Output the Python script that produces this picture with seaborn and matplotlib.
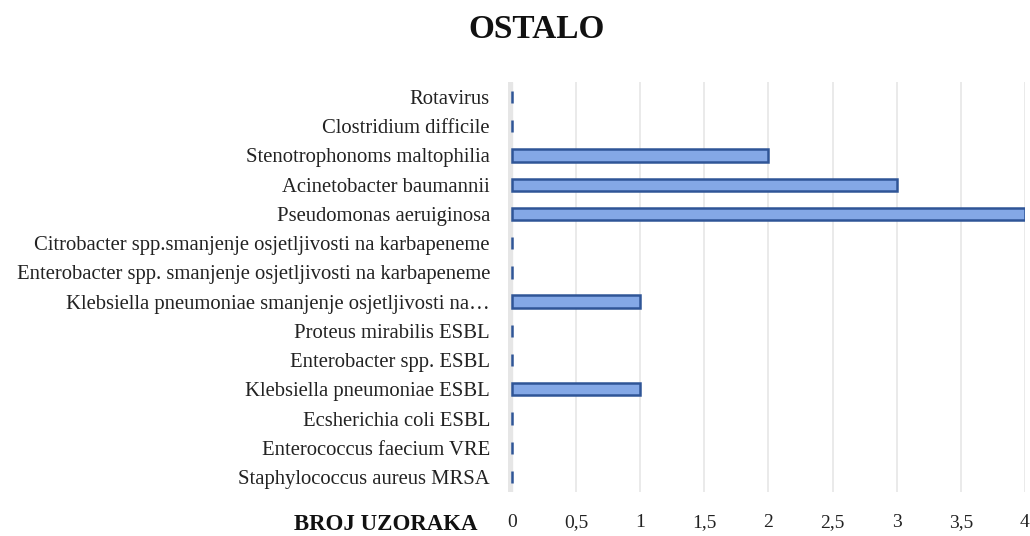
import matplotlib.pyplot as plt
import seaborn as sns
import pandas as pd
from matplotlib.ticker import FuncFormatter

categories = [
    'Rotavirus',
    'Clostridium difficile',
    'Stenotrophonoms maltophilia',
    'Acinetobacter baumannii',
    'Pseudomonas aeruiginosa',
    'Citrobacter spp.smanjenje osjetljivosti na karbapeneme',
    'Enterobacter spp. smanjenje osjetljivosti na karbapeneme',
    'Klebsiella pneumoniae smanjenje osjetljivosti na…',
    'Proteus mirabilis ESBL',
    'Enterobacter spp. ESBL',
    'Klebsiella pneumoniae ESBL',
    'Ecsherichia coli ESBL',
    'Enterococcus faecium VRE',
    'Staphylococcus aureus MRSA',
]
counts = [0, 0, 2, 3, 4, 0, 0, 1, 0, 0, 1, 0, 0, 0]
ticks = [0, 0.5, 1, 1.5, 2, 2.5, 3, 3.5, 4]

df = pd.DataFrame({'organizam': categories, 'broj': counts})

sns.set_style('white')
plt.rcParams['font.family'] = ['Liberation Serif', 'DejaVu Serif']

fig = plt.figure(figsize=(10.3, 5.36), dpi=100)
ax = fig.add_axes([0.4932, 0.0828, 0.5019, 0.7635])

# grey "wall" on the left like the excel 3d chart
ax.axvspan(-0.03, 0, color='#e6e6e6', zorder=0)

sns.barplot(data=df, x='broj', y='organizam', orient='h', width=0.42,
            color='#84a8e6', edgecolor='#2f5597', linewidth=1.8,
            saturation=1, ax=ax, zorder=3)

ax.set_xlim(-0.03, 4.0)
ax.set_xticks(ticks)
ax.xaxis.set_major_formatter(FuncFormatter(lambda v, p: f'{v:g}'.replace('.', ',')))
ax.grid(axis='x', color='#e6e6e6', linewidth=1.2, zorder=0)
ax.grid(axis='y', visible=False)
for s in ax.spines.values():
    s.set_visible(False)
ax.tick_params(axis='y', length=0, pad=13, labelsize=14.9, labelcolor='#222222')
ax.tick_params(axis='x', length=0, pad=16, labelsize=14, labelcolor='#222222')
ax.set_xlabel('')
ax.set_ylabel('')

fig.text(537 / 1030, 1 - 29 / 536, 'OSTALO', ha='center', va='center',
         fontsize=24, fontweight='bold', color='#111111')
fig.text(478 / 1030, 1 - 524 / 536, 'BROJ UZORAKA', ha='right', va='center',
         fontsize=16.5, fontweight='bold', color='#111111')

plt.savefig('out.png', dpi=100)
